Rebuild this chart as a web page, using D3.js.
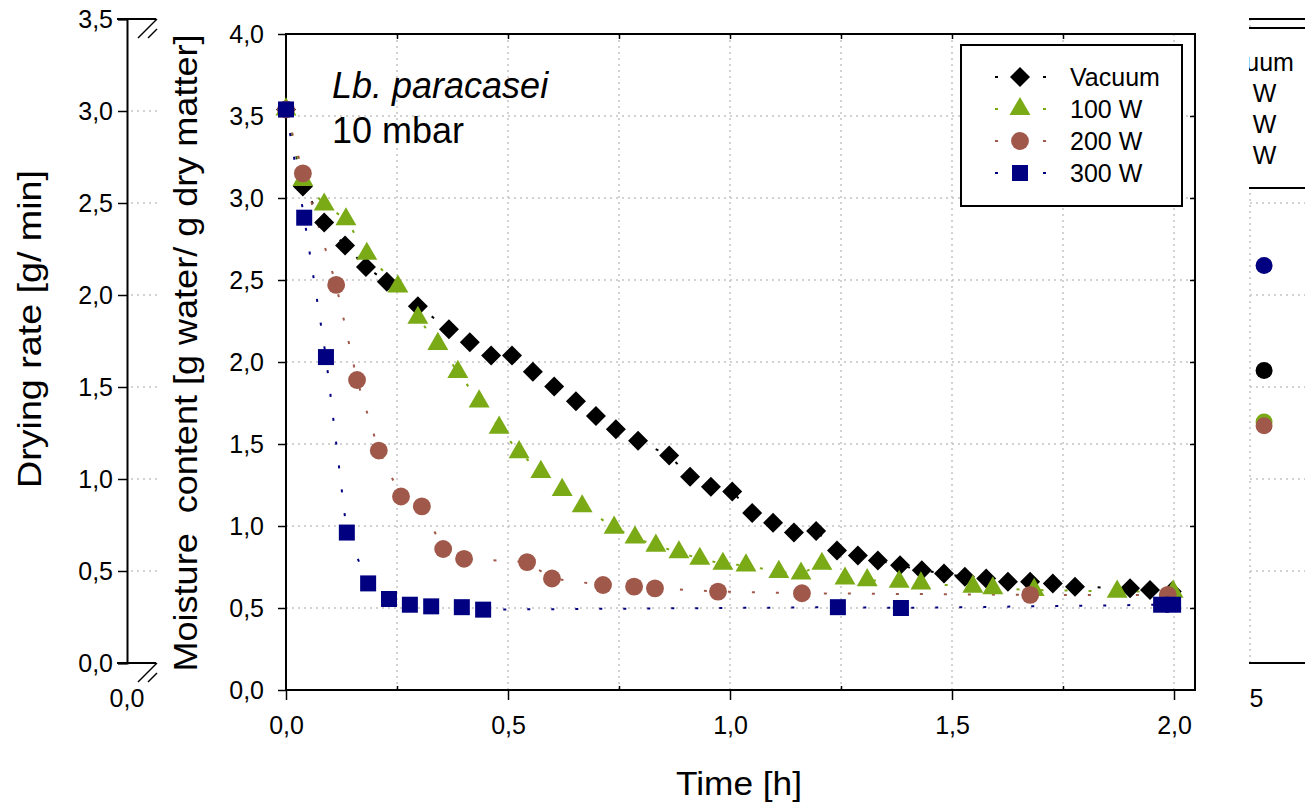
<!DOCTYPE html>
<html>
<head>
<meta charset="utf-8">
<script src="https://cdn.jsdelivr.net/npm/d3@7"></script>
<style>
body{margin:0;background:#fff;}
text{font-family:"Liberation Sans",Arial,sans-serif;fill:#000;}
</style>
</head>
<body>
<div id="chart"></div>
<script>
// ---- data ----
var seriesNames = ["Vacuum", "100 W", "200 W", "300 W"];
var seriesColors = ["#000000", "#7aab16", "#a0584a", "#000080"];

var vacuumTime = [0, 0.038, 0.086, 0.133, 0.180, 0.227, 0.297, 0.367, 0.414, 0.462, 0.509, 0.556, 0.604, 0.653, 0.698, 0.743, 0.793, 0.863, 0.910, 0.957, 1.005, 1.050, 1.097, 1.144, 1.194, 1.241, 1.288, 1.333, 1.383, 1.432, 1.482, 1.529, 1.577, 1.626, 1.676, 1.727, 1.777, 1.901, 1.946, 1.995];
var vacuumMoisture = [3.54, 3.07, 2.85, 2.71, 2.58, 2.49, 2.34, 2.20, 2.12, 2.04, 2.04, 1.94, 1.85, 1.76, 1.67, 1.59, 1.52, 1.43, 1.30, 1.24, 1.21, 1.08, 1.02, 0.96, 0.97, 0.85, 0.82, 0.79, 0.76, 0.73, 0.71, 0.69, 0.68, 0.66, 0.66, 0.65, 0.63, 0.62, 0.61, 0.60];

var w100Time = [0, 0.038, 0.086, 0.135, 0.182, 0.252, 0.297, 0.342, 0.387, 0.435, 0.480, 0.525, 0.574, 0.622, 0.667, 0.739, 0.786, 0.833, 0.885, 0.932, 0.984, 1.036, 1.110, 1.160, 1.207, 1.259, 1.309, 1.381, 1.430, 1.547, 1.592, 1.685, 1.872, 1.998];
var w100Moisture = [3.54, 3.11, 2.96, 2.87, 2.66, 2.46, 2.27, 2.11, 1.94, 1.76, 1.60, 1.45, 1.33, 1.22, 1.12, 0.99, 0.93, 0.88, 0.84, 0.80, 0.77, 0.76, 0.72, 0.71, 0.77, 0.68, 0.67, 0.66, 0.65, 0.63, 0.62, 0.61, 0.60, 0.60];

var w200Time = [0, 0.038, 0.113, 0.160, 0.209, 0.259, 0.306, 0.354, 0.401, 0.543, 0.599, 0.714, 0.784, 0.831, 0.973, 1.162, 1.676, 1.986];
var w200Moisture = [3.54, 3.15, 2.47, 1.89, 1.46, 1.18, 1.12, 0.86, 0.80, 0.78, 0.68, 0.64, 0.63, 0.62, 0.60, 0.59, 0.58, 0.58];

var w300Time = [0, 0.041, 0.090, 0.137, 0.185, 0.232, 0.279, 0.327, 0.396, 0.444, 1.243, 1.385, 1.971, 1.998];
var w300Moisture = [3.54, 2.88, 2.03, 0.96, 0.65, 0.555, 0.52, 0.51, 0.505, 0.49, 0.505, 0.50, 0.52, 0.52];

// the drying-rate panel behind, only its edges show
var rateX = [0.532, 0.532, 0.532, 0.532];
var rateValues = [1.59, 1.31, 1.29, 2.16];

var timeTicks = [0, 0.5, 1.0, 1.5, 2.0];
var moistureTicks = [0, 0.5, 1.0, 1.5, 2.0, 2.5, 3.0, 3.5, 4.0];
var rateTicks = [0, 0.5, 1.0, 1.5, 2.0, 2.5, 3.0, 3.5];

var fmt = function(d){ return d3.format(".1f")(d).replace(".", ","); };

var W = 1305, H = 803;
var svg = d3.select("#chart").append("svg")
    .attr("width", W).attr("height", H);

// ---------- background drying rate panel ----------
var yRate = d3.scaleLinear().domain([0, 3.5]).range([663, 19]);
var xRateR = d3.scaleLinear().domain([0.5, 1.0]).range([1250, 1470]);

var rateG = svg.append("g");
// grid stubs on the left
rateG.selectAll("line.stub")
    .data(rateTicks.filter(function(d){ return d > 0 && d < 3.5; }))
    .enter().append("line")
    .attr("x1", 131).attr("x2", 158)
    .attr("y1", yRate).attr("y2", yRate)
    .attr("stroke", "#c4c4c4").attr("stroke-width", 1.5)
    .attr("stroke-dasharray", "2,4");

rateG.append("g")
    .attr("transform", "translate(127,0)")
    .call(d3.axisLeft(yRate).tickValues(rateTicks).tickFormat(fmt).tickSize(9).tickPadding(5))
    .call(function(g){
        g.select(".domain").attr("stroke-width", 2);
        g.selectAll(".tick line").attr("stroke-width", 1.5);
        g.selectAll("text").style("font-size", "25px");
    });

// x axis stubs + break marks
[19, 663].forEach(function(yy){
    rateG.append("line").attr("x1", 117).attr("x2", 156).attr("y1", yy).attr("y2", yy)
        .attr("stroke", "#000").attr("stroke-width", 2);
    rateG.append("line").attr("x1", 138).attr("x2", 157).attr("y1", yy + 19).attr("y2", yy)
        .attr("stroke", "#000").attr("stroke-width", 1.5);
    rateG.append("line").attr("x1", 148).attr("x2", 157).attr("y1", yy + 19).attr("y2", yy + 10)
        .attr("stroke", "#000").attr("stroke-width", 1.5);
});
rateG.append("text").attr("x", 127).attr("y", 707)
    .attr("text-anchor", "middle").style("font-size", "25px").text(fmt(0));

rateG.append("text")
    .attr("transform", "translate(41,329) rotate(-90)")
    .attr("text-anchor", "middle")
    .attr("textLength", 318).attr("lengthAdjust", "spacingAndGlyphs")
    .style("font-size", "34px")
    .text("Drying rate [g/ min]");

// right edge of the same panel, clipped
svg.append("clipPath").attr("id", "rclip")
    .append("rect").attr("x", 1249).attr("y", 0).attr("width", 60).attr("height", H);
var rightG = svg.append("g").attr("clip-path", "url(#rclip)");

rightG.selectAll("line.hg")
    .data(rateTicks.filter(function(d){ return d > 0 && d < 3.5; }))
    .enter().append("line")
    .attr("x1", 1250).attr("x2", W)
    .attr("y1", yRate).attr("y2", yRate)
    .attr("stroke", "#c4c4c4").attr("stroke-width", 1.5)
    .attr("stroke-dasharray", "2,4");
rightG.append("line").attr("x1", xRateR(0.5)).attr("x2", xRateR(0.5))
    .attr("y1", yRate(3.5)).attr("y2", yRate(0))
    .attr("stroke", "#c4c4c4").attr("stroke-width", 1.5).attr("stroke-dasharray", "2,4");
rightG.append("line").attr("x1", 1240).attr("x2", W).attr("y1", yRate(3.5)).attr("y2", yRate(3.5))
    .attr("stroke", "#000").attr("stroke-width", 2);
rightG.append("line").attr("x1", 1240).attr("x2", W).attr("y1", yRate(0)).attr("y2", yRate(0))
    .attr("stroke", "#000").attr("stroke-width", 2);
rightG.append("text").attr("x", xRateR(0.5)).attr("dx", -4).attr("y", 707)
    .attr("text-anchor", "middle").style("font-size", "25px").text(fmt(0.5));

rightG.selectAll("circle.rate")
    .data(rateValues)
    .enter().append("circle")
    .attr("cx", function(d, i){ return xRateR(rateX[i]); })
    .attr("cy", function(d){ return yRate(d); })
    .attr("r", 8.5)
    .attr("fill", function(d, i){ return seriesColors[i]; });

// right legend (partly hidden)
rightG.append("rect").attr("x", 1150).attr("y", 28).attr("width", 200).attr("height", 160)
    .attr("fill", "#fff").attr("stroke", "#000").attr("stroke-width", 2);
rightG.selectAll("text.rl")
    .data(seriesNames)
    .enter().append("text")
    .attr("x", 1204)
    .attr("y", function(d, i){ return 62 + i * 31 + 9; })
    .style("font-size", "25px")
    .text(function(d){ return d; });

// ---------- main moisture panel ----------
var plotLeft = 286, plotRight = 1195, plotTop = 34, plotBottom = 690;
svg.append("rect").attr("x", 158).attr("y", 0).attr("width", 1249 - 158).attr("height", H)
    .attr("fill", "#fff");

var x = d3.scaleLinear().domain([0, 2.0]).range([286, 1174]);
var y = d3.scaleLinear().domain([0, 4.0]).range([plotBottom, plotTop]);

var grid = svg.append("g");
grid.selectAll("line.vg")
    .data(d3.range(1, 9).map(function(i){ return i * 0.25; }))
    .enter().append("line")
    .attr("x1", x).attr("x2", x).attr("y1", plotTop).attr("y2", plotBottom)
    .attr("stroke", "#c4c4c4").attr("stroke-width", 1.5).attr("stroke-dasharray", "2,4");
grid.selectAll("line.hg")
    .data(moistureTicks.filter(function(d){ return d > 0 && d < 4; }))
    .enter().append("line")
    .attr("x1", plotLeft).attr("x2", plotRight).attr("y1", y).attr("y2", y)
    .attr("stroke", "#c4c4c4").attr("stroke-width", 1.5).attr("stroke-dasharray", "2,4");

// frame
svg.append("rect").attr("x", plotLeft).attr("y", plotTop)
    .attr("width", plotRight - plotLeft).attr("height", plotBottom - plotTop)
    .attr("fill", "none").attr("stroke", "#000").attr("stroke-width", 2);

// axes
svg.append("g")
    .attr("transform", "translate(0," + plotBottom + ")")
    .call(d3.axisBottom(x).tickValues(timeTicks).tickFormat(fmt).tickSize(10).tickPadding(16))
    .call(function(g){
        g.select(".domain").remove();
        g.selectAll(".tick line").attr("stroke-width", 1.5);
        g.selectAll("text").style("font-size", "25px");
    });
svg.append("g")
    .attr("transform", "translate(0," + plotBottom + ")")
    .call(d3.axisTop(x).tickValues([0.25, 0.75, 1.25, 1.75]).tickFormat("").tickSize(4))
    .call(function(g){ g.select(".domain").remove(); g.selectAll(".tick line").attr("stroke-width", 1.5); });
svg.append("g")
    .attr("transform", "translate(0," + plotTop + ")")
    .call(d3.axisBottom(x).tickValues(d3.range(1, 8).map(function(i){ return i * 0.25; })).tickFormat("").tickSize(5))
    .call(function(g){ g.select(".domain").remove(); g.selectAll(".tick line").attr("stroke-width", 1.5); });
svg.append("g")
    .attr("transform", "translate(" + plotLeft + ",0)")
    .call(d3.axisLeft(y).tickValues(moistureTicks).tickFormat(fmt).tickSize(8).tickPadding(14))
    .call(function(g){
        g.select(".domain").remove();
        g.selectAll(".tick line").attr("stroke-width", 1.5);
        g.selectAll("text").style("font-size", "25px");
    });
svg.append("g")
    .attr("transform", "translate(" + plotRight + ",0)")
    .call(d3.axisLeft(y).tickValues(moistureTicks.filter(function(d){ return d > 0 && d < 4; })).tickFormat("").tickSize(5))
    .call(function(g){ g.select(".domain").remove(); g.selectAll(".tick line").attr("stroke-width", 1.5); });

// axis titles
svg.append("text")
    .attr("x", 739).attr("y", 795)
    .attr("text-anchor", "middle")
    .attr("textLength", 126).attr("lengthAdjust", "spacingAndGlyphs")
    .style("font-size", "34px")
    .text("Time [h]");
svg.append("text")
    .attr("transform", "translate(197,353) rotate(-90)")
    .attr("text-anchor", "middle")
    .attr("textLength", 637).attr("lengthAdjust", "spacingAndGlyphs")
    .style("font-size", "34px")
    .style("white-space", "pre")
    .text("Moisture  content [g water/ g dry matter]");

// in-plot title
svg.append("text").attr("x", 332).attr("y", 98)
    .style("font-size", "36px").style("font-style", "italic")
    .text("Lb. paracasei");
svg.append("text").attr("x", 332).attr("y", 143)
    .style("font-size", "36px")
    .text("10 mbar");

// series
var allTimes = [vacuumTime, w100Time, w200Time, w300Time];
var allMoist = [vacuumMoisture, w100Moisture, w200Moisture, w300Moisture];
var symbols = [d3.symbolSquare, d3.symbolTriangle, d3.symbolCircle, d3.symbolSquare];
var symSizes = [200, 190, 250, 256];
var rotations = [45, 0, 0, 0];

var line = d3.line()
    .x(function(d){ return x(d[0]); })
    .y(function(d){ return y(d[1]); });

var dataPts = allTimes.map(function(ts, i){
    return ts.map(function(t, j){ return [t, allMoist[i][j]]; });
});

dataPts.forEach(function(pts, i){
    svg.append("path")
        .datum(pts)
        .attr("d", line)
        .attr("fill", "none")
        .attr("stroke", seriesColors[i])
        .attr("stroke-width", 2)
        .attr("stroke-dasharray", "3,21");
});
dataPts.forEach(function(pts, i){
    svg.append("g").selectAll("path")
        .data(pts)
        .enter().append("path")
        .attr("d", d3.symbol().type(symbols[i]).size(symSizes[i]))
        .attr("transform", function(d){
            return "translate(" + x(d[0]) + "," + y(d[1]) + ") rotate(" + rotations[i] + ")";
        })
        .attr("fill", seriesColors[i]);
});

// legend
var legend = svg.append("g");
legend.append("rect").attr("x", 961).attr("y", 45).attr("width", 221).attr("height", 161)
    .attr("fill", "#fff").attr("stroke", "#000").attr("stroke-width", 2);
seriesNames.forEach(function(name, i){
    var ly = 77 + i * 32;
    legend.append("line").attr("x1", 995).attr("x2", 1048).attr("y1", ly).attr("y2", ly)
        .attr("stroke", seriesColors[i]).attr("stroke-width", 2).attr("stroke-dasharray", "3,21");
    legend.append("path")
        .attr("d", d3.symbol().type(symbols[i]).size(symSizes[i]))
        .attr("transform", "translate(1020," + ly + ") rotate(" + rotations[i] + ")")
        .attr("fill", seriesColors[i]);
    legend.append("text").attr("x", 1070).attr("y", ly + 9)
        .style("font-size", "25px").text(name);
});
</script>
</body>
</html>
